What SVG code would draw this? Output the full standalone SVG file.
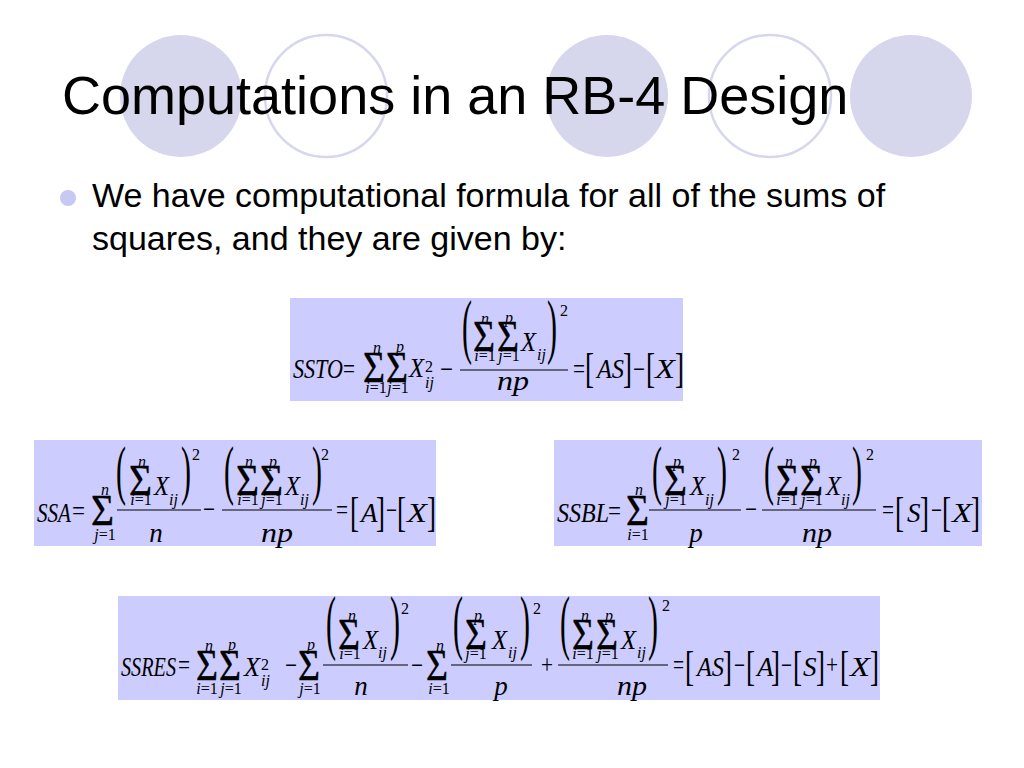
<svg xmlns="http://www.w3.org/2000/svg" width="1024" height="768" viewBox="0 0 1024 768">
<style>
.t{font-family:"Liberation Sans",Arial,sans-serif;fill:#000}
.m{font-family:"Liberation Serif","Times New Roman",serif;fill:#000}
.v{font-style:italic;font-size:27px}
.r{font-size:27px}
.sg{font-size:45px;stroke:#000;stroke-width:0.4}
.l{font-style:italic;font-size:16px}
.d{font-size:16px}
.br{font-size:27px}
.par{font-size:30px}
.box{fill:#CCCCFF}
.fl{stroke:#000;stroke-width:1.2}
.cf{fill:#D6D6EC}
.co{fill:none;stroke:#D6D6EC;stroke-width:2.5}
</style>
<rect width="1024" height="768" fill="#fff"/>
<g id="decor">
<circle class="cf" cx="181" cy="96" r="61"/>
<circle class="co" cx="326" cy="96" r="61"/>
<circle class="cf" cx="607" cy="96" r="61"/>
<circle class="co" cx="770" cy="96" r="61"/>
<circle class="cf" cx="911" cy="96" r="61"/>
</g>
<g id="title"><text class="t" x="62" y="114" font-size="54">Computations in an RB-4 Design</text></g>
<g id="bullet">
<circle cx="68" cy="198" r="8" fill="#C8C8F4"/>
<text class="t" x="92" y="207" font-size="34">We have computational formula for all of the sums of</text>
<text class="t" x="92" y="250" font-size="34">squares, and they are given by:</text>
</g>
<g id="ssto">
<rect class="box" x="290" y="298" width="393" height="103"/>
<text class="m v" x="293" y="378" textLength="50" lengthAdjust="spacingAndGlyphs">SSTO</text>
<text class="m r" x="343" y="378" textLength="12" lengthAdjust="spacingAndGlyphs">=</text>
<text class="m sg" x="363" y="382" textLength="22" lengthAdjust="spacingAndGlyphs">Σ</text>
<text class="m l" x="377" y="353" text-anchor="middle">n</text>
<text class="m l" x="376" y="393" text-anchor="middle">i<tspan font-style="normal">=1</tspan></text>
<text class="m sg" x="386" y="382" textLength="22" lengthAdjust="spacingAndGlyphs">Σ</text>
<text class="m l" x="400" y="352" text-anchor="middle">p</text>
<text class="m l" x="398" y="393" text-anchor="middle">j<tspan font-style="normal">=1</tspan></text>
<text class="m v" x="409" y="377" textLength="15" lengthAdjust="spacingAndGlyphs">X</text>
<text class="m d" x="425" y="372">2</text>
<text class="m l" x="425" y="388">ij</text>
<text class="m r" x="440" y="378" textLength="13" lengthAdjust="spacingAndGlyphs">−</text>
<line class="fl" x1="460" y1="370" x2="568" y2="370"/>
<text class="m par" transform="translate(462,350) scale(1,2.4)">(</text>
<text class="m sg" x="473" y="351" textLength="22" lengthAdjust="spacingAndGlyphs">Σ</text>
<text class="m l" x="485" y="324" text-anchor="middle">n</text>
<text class="m l" x="485" y="361" text-anchor="middle">i<tspan font-style="normal">=1</tspan></text>
<text class="m sg" x="497" y="351" textLength="22" lengthAdjust="spacingAndGlyphs">Σ</text>
<text class="m l" x="509" y="323" text-anchor="middle">p</text>
<text class="m l" x="509" y="361" text-anchor="middle">j<tspan font-style="normal">=1</tspan></text>
<text class="m v" x="521" y="351" textLength="15" lengthAdjust="spacingAndGlyphs">X</text>
<text class="m l" x="537" y="360">ij</text>
<text class="m par" transform="translate(547,350) scale(1,2.4)">)</text>
<text class="m d" x="560" y="316">2</text>
<text class="m v" x="513" y="390" text-anchor="middle" textLength="32" lengthAdjust="spacingAndGlyphs">np</text>
<text class="m r" x="573" y="378" textLength="12" lengthAdjust="spacingAndGlyphs">=</text>
<text class="m br" transform="translate(585,382) scale(1,1.6)">[</text>
<text class="m v" x="597" y="378" textLength="27" lengthAdjust="spacingAndGlyphs">AS</text>
<text class="m br" transform="translate(623,382) scale(1,1.6)">]</text>
<text class="m r" x="633" y="378" textLength="12" lengthAdjust="spacingAndGlyphs">−</text>
<text class="m br" transform="translate(646,382) scale(1,1.6)">[</text>
<text class="m v" x="655" y="378" textLength="20" lengthAdjust="spacingAndGlyphs">X</text>
<text class="m br" transform="translate(675,382) scale(1,1.6)">]</text>
</g>
<g id="ssa">
<rect class="box" x="34" y="440" width="402" height="106"/>
<text class="m v" x="37" y="522" textLength="34" lengthAdjust="spacingAndGlyphs">SSA</text>
<text class="m r" x="72" y="520" textLength="13" lengthAdjust="spacingAndGlyphs">=</text>
<text class="m sg" x="91" y="525" textLength="23" lengthAdjust="spacingAndGlyphs">Σ</text>
<text class="m l" x="105" y="495" text-anchor="middle">n</text>
<text class="m l" x="105" y="540" text-anchor="middle">j<tspan font-style="normal">=1</tspan></text>
<line class="fl" x1="117" y1="510" x2="201" y2="510"/>
<text class="m par" transform="translate(116,492) scale(1,2.15)">(</text>
<text class="m sg" x="129" y="495" textLength="23" lengthAdjust="spacingAndGlyphs">Σ</text>
<text class="m l" x="142" y="467" text-anchor="middle">n</text>
<text class="m l" x="141" y="505" text-anchor="middle">i<tspan font-style="normal">=1</tspan></text>
<text class="m v" x="154" y="495" textLength="15" lengthAdjust="spacingAndGlyphs">X</text>
<text class="m l" x="169" y="505">ij</text>
<text class="m par" transform="translate(181,492) scale(1,2.15)">)</text>
<text class="m d" x="192" y="460">2</text>
<text class="m v" x="156" y="542" text-anchor="middle">n</text>
<text class="m r" x="203" y="518" textLength="12" lengthAdjust="spacingAndGlyphs">−</text>
<line class="fl" x1="222" y1="510" x2="332" y2="510"/>
<text class="m par" transform="translate(224,492) scale(1,2.15)">(</text>
<text class="m sg" x="236" y="495" textLength="23" lengthAdjust="spacingAndGlyphs">Σ</text>
<text class="m l" x="249" y="467" text-anchor="middle">n</text>
<text class="m l" x="248" y="505" text-anchor="middle">i<tspan font-style="normal">=1</tspan></text>
<text class="m sg" x="260" y="495" textLength="23" lengthAdjust="spacingAndGlyphs">Σ</text>
<text class="m l" x="273" y="467" text-anchor="middle">p</text>
<text class="m l" x="272" y="505" text-anchor="middle">j<tspan font-style="normal">=1</tspan></text>
<text class="m v" x="285" y="495" textLength="15" lengthAdjust="spacingAndGlyphs">X</text>
<text class="m l" x="300" y="505">ij</text>
<text class="m par" transform="translate(312,492) scale(1,2.15)">)</text>
<text class="m d" x="321" y="460">2</text>
<text class="m v" x="277" y="542" text-anchor="middle" textLength="32" lengthAdjust="spacingAndGlyphs">np</text>
<text class="m r" x="336" y="519" textLength="12" lengthAdjust="spacingAndGlyphs">=</text>
<text class="m br" transform="translate(350,526) scale(1,1.6)">[</text>
<text class="m v" x="361" y="522">A</text>
<text class="m br" transform="translate(376,526) scale(1,1.6)">]</text>
<text class="m r" x="386" y="519" textLength="11" lengthAdjust="spacingAndGlyphs">−</text>
<text class="m br" transform="translate(397,526) scale(1,1.6)">[</text>
<text class="m v" x="407" y="522" textLength="20" lengthAdjust="spacingAndGlyphs">X</text>
<text class="m br" transform="translate(427,526) scale(1,1.6)">]</text>
</g>
<g id="ssbl">
<rect class="box" x="554" y="440" width="428" height="106"/>
<text class="m v" x="557" y="522" textLength="52" lengthAdjust="spacingAndGlyphs">SSBL</text>
<text class="m r" x="608" y="520" textLength="13" lengthAdjust="spacingAndGlyphs">=</text>
<text class="m sg" x="626" y="525" textLength="23" lengthAdjust="spacingAndGlyphs">Σ</text>
<text class="m l" x="639" y="495" text-anchor="middle">n</text>
<text class="m l" x="638" y="540" text-anchor="middle">i<tspan font-style="normal">=1</tspan></text>
<line class="fl" x1="649" y1="510" x2="741" y2="510"/>
<text class="m par" transform="translate(652,492) scale(1,2.15)">(</text>
<text class="m sg" x="664" y="495" textLength="23" lengthAdjust="spacingAndGlyphs">Σ</text>
<text class="m l" x="677" y="467" text-anchor="middle">p</text>
<text class="m l" x="676" y="505" text-anchor="middle">j<tspan font-style="normal">=1</tspan></text>
<text class="m v" x="690" y="495" textLength="15" lengthAdjust="spacingAndGlyphs">X</text>
<text class="m l" x="705" y="505">ij</text>
<text class="m par" transform="translate(717,492) scale(1,2.15)">)</text>
<text class="m d" x="732" y="460">2</text>
<text class="m v" x="696" y="542" text-anchor="middle">p</text>
<text class="m r" x="745" y="518" textLength="12" lengthAdjust="spacingAndGlyphs">−</text>
<line class="fl" x1="762" y1="510" x2="876" y2="510"/>
<text class="m par" transform="translate(764,492) scale(1,2.15)">(</text>
<text class="m sg" x="776" y="495" textLength="23" lengthAdjust="spacingAndGlyphs">Σ</text>
<text class="m l" x="789" y="467" text-anchor="middle">n</text>
<text class="m l" x="787" y="505" text-anchor="middle">i<tspan font-style="normal">=1</tspan></text>
<text class="m sg" x="800" y="495" textLength="23" lengthAdjust="spacingAndGlyphs">Σ</text>
<text class="m l" x="813" y="467" text-anchor="middle">p</text>
<text class="m l" x="812" y="505" text-anchor="middle">j<tspan font-style="normal">=1</tspan></text>
<text class="m v" x="826" y="495" textLength="15" lengthAdjust="spacingAndGlyphs">X</text>
<text class="m l" x="841" y="505">ij</text>
<text class="m par" transform="translate(852,492) scale(1,2.15)">)</text>
<text class="m d" x="866" y="460">2</text>
<text class="m v" x="817" y="542" text-anchor="middle" textLength="30" lengthAdjust="spacingAndGlyphs">np</text>
<text class="m r" x="882" y="519" textLength="12" lengthAdjust="spacingAndGlyphs">=</text>
<text class="m br" transform="translate(895,526) scale(1,1.6)">[</text>
<text class="m v" x="907" y="522">S</text>
<text class="m br" transform="translate(920,526) scale(1,1.6)">]</text>
<text class="m r" x="931" y="519" textLength="11" lengthAdjust="spacingAndGlyphs">−</text>
<text class="m br" transform="translate(942,526) scale(1,1.6)">[</text>
<text class="m v" x="952" y="522" textLength="20" lengthAdjust="spacingAndGlyphs">X</text>
<text class="m br" transform="translate(971,526) scale(1,1.6)">]</text>
</g>
<g id="ssres">
<rect class="box" x="118" y="596" width="762" height="104"/>
<text class="m v" x="121" y="676" textLength="55" lengthAdjust="spacingAndGlyphs">SSRES</text>
<text class="m r" x="178" y="674" textLength="12" lengthAdjust="spacingAndGlyphs">=</text>
<text class="m sg" x="196" y="680" textLength="22" lengthAdjust="spacingAndGlyphs">Σ</text>
<text class="m l" x="209" y="651" text-anchor="middle">n</text>
<text class="m l" x="207" y="694" text-anchor="middle">i<tspan font-style="normal">=1</tspan></text>
<text class="m sg" x="219" y="680" textLength="22" lengthAdjust="spacingAndGlyphs">Σ</text>
<text class="m l" x="232" y="650" text-anchor="middle">p</text>
<text class="m l" x="231" y="694" text-anchor="middle">j<tspan font-style="normal">=1</tspan></text>
<text class="m v" x="244" y="676" textLength="16" lengthAdjust="spacingAndGlyphs">X</text>
<text class="m d" x="261" y="670">2</text>
<text class="m l" x="261" y="686">ij</text>
<text class="m r" x="285" y="674" textLength="12" lengthAdjust="spacingAndGlyphs">−</text>
<text class="m sg" x="298" y="680" textLength="22" lengthAdjust="spacingAndGlyphs">Σ</text>
<text class="m l" x="311" y="650" text-anchor="middle">p</text>
<text class="m l" x="310" y="694" text-anchor="middle">j<tspan font-style="normal">=1</tspan></text>
<line class="fl" x1="323" y1="665" x2="408" y2="665"/>
<text class="m par" transform="translate(326,646) scale(1,2.4)">(</text>
<text class="m sg" x="338" y="649" textLength="22" lengthAdjust="spacingAndGlyphs">Σ</text>
<text class="m l" x="352" y="621" text-anchor="middle">n</text>
<text class="m l" x="350" y="659" text-anchor="middle">i<tspan font-style="normal">=1</tspan></text>
<text class="m v" x="363" y="649" textLength="15" lengthAdjust="spacingAndGlyphs">X</text>
<text class="m l" x="378" y="658">ij</text>
<text class="m par" transform="translate(390,646) scale(1,2.4)">)</text>
<text class="m d" x="401" y="614">2</text>
<text class="m v" x="361" y="695" text-anchor="middle">n</text>
<text class="m r" x="411" y="674" textLength="12" lengthAdjust="spacingAndGlyphs">−</text>
<text class="m sg" x="426" y="680" textLength="22" lengthAdjust="spacingAndGlyphs">Σ</text>
<text class="m l" x="440" y="651" text-anchor="middle">n</text>
<text class="m l" x="439" y="694" text-anchor="middle">i<tspan font-style="normal">=1</tspan></text>
<line class="fl" x1="451" y1="665" x2="532" y2="665"/>
<text class="m par" transform="translate(453,646) scale(1,2.4)">(</text>
<text class="m sg" x="465" y="649" textLength="22" lengthAdjust="spacingAndGlyphs">Σ</text>
<text class="m l" x="478" y="621" text-anchor="middle">p</text>
<text class="m l" x="476" y="659" text-anchor="middle">j<tspan font-style="normal">=1</tspan></text>
<text class="m v" x="492" y="649" textLength="15" lengthAdjust="spacingAndGlyphs">X</text>
<text class="m l" x="508" y="658">ij</text>
<text class="m par" transform="translate(520,646) scale(1,2.4)">)</text>
<text class="m d" x="533" y="614">2</text>
<text class="m v" x="501" y="695" text-anchor="middle">p</text>
<text class="m r" x="541" y="674" textLength="12" lengthAdjust="spacingAndGlyphs">+</text>
<line class="fl" x1="558" y1="665" x2="668" y2="665"/>
<text class="m par" transform="translate(560,646) scale(1,2.4)">(</text>
<text class="m sg" x="572" y="649" textLength="22" lengthAdjust="spacingAndGlyphs">Σ</text>
<text class="m l" x="585" y="621" text-anchor="middle">n</text>
<text class="m l" x="583" y="659" text-anchor="middle">i<tspan font-style="normal">=1</tspan></text>
<text class="m sg" x="596" y="649" textLength="22" lengthAdjust="spacingAndGlyphs">Σ</text>
<text class="m l" x="609" y="621" text-anchor="middle">p</text>
<text class="m l" x="608" y="659" text-anchor="middle">j<tspan font-style="normal">=1</tspan></text>
<text class="m v" x="621" y="649" textLength="15" lengthAdjust="spacingAndGlyphs">X</text>
<text class="m l" x="637" y="658">ij</text>
<text class="m par" transform="translate(648,646) scale(1,2.4)">)</text>
<text class="m d" x="662" y="611">2</text>
<text class="m v" x="632" y="695" text-anchor="middle" textLength="30" lengthAdjust="spacingAndGlyphs">np</text>
<text class="m r" x="673" y="674" textLength="11" lengthAdjust="spacingAndGlyphs">=</text>
<text class="m br" transform="translate(685,680) scale(1,1.6)">[</text>
<text class="m v" x="697" y="676" textLength="27" lengthAdjust="spacingAndGlyphs">AS</text>
<text class="m br" transform="translate(723,680) scale(1,1.6)">]</text>
<text class="m r" x="734" y="674" textLength="11" lengthAdjust="spacingAndGlyphs">−</text>
<text class="m br" transform="translate(746,680) scale(1,1.6)">[</text>
<text class="m v" x="757" y="676">A</text>
<text class="m br" transform="translate(771,680) scale(1,1.6)">]</text>
<text class="m r" x="781" y="674" textLength="11" lengthAdjust="spacingAndGlyphs">−</text>
<text class="m br" transform="translate(793,680) scale(1,1.6)">[</text>
<text class="m v" x="803" y="676">S</text>
<text class="m br" transform="translate(816,680) scale(1,1.6)">]</text>
<text class="m r" x="826" y="674" textLength="12" lengthAdjust="spacingAndGlyphs">+</text>
<text class="m br" transform="translate(840,680) scale(1,1.6)">[</text>
<text class="m v" x="850" y="676" textLength="20" lengthAdjust="spacingAndGlyphs">X</text>
<text class="m br" transform="translate(870,680) scale(1,1.6)">]</text>
</g>
</svg>
